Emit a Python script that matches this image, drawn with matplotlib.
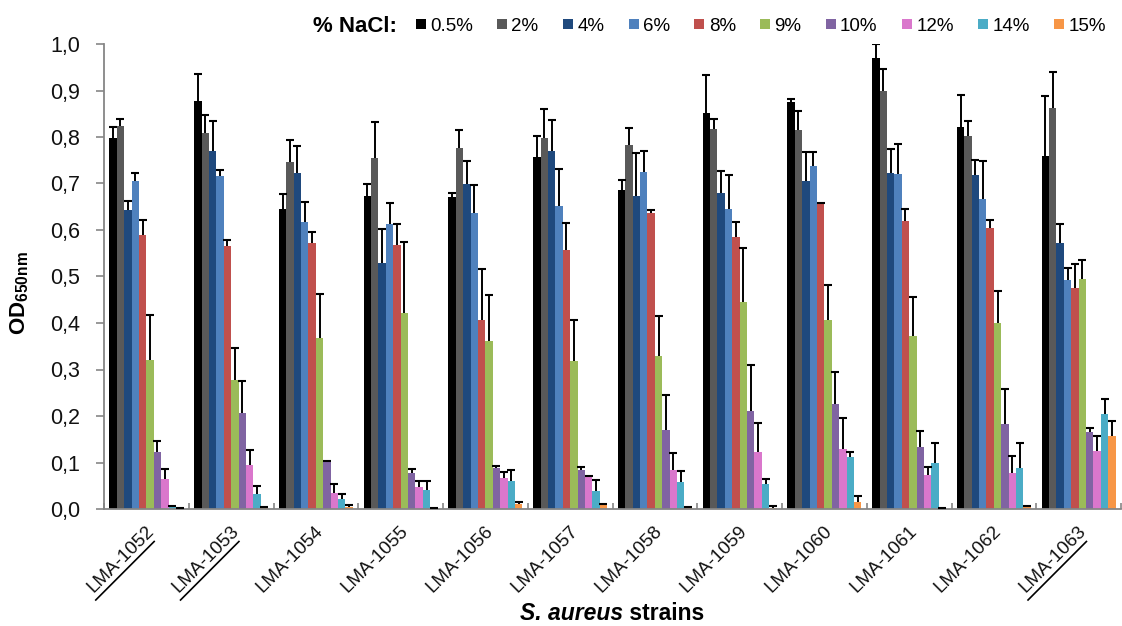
import numpy as np
import matplotlib
matplotlib.use("Agg")
import matplotlib.pyplot as plt
from matplotlib.lines import Line2D
from matplotlib.ticker import FuncFormatter, MultipleLocator, FixedLocator
from matplotlib.transforms import ScaledTranslation

plt.rcParams["font.family"] = ["Liberation Sans", "DejaVu Sans"]
plt.rcParams["mathtext.fontset"] = "custom"
plt.rcParams["mathtext.rm"] = "Liberation Sans"
plt.rcParams["mathtext.bf"] = "Liberation Sans:bold"

strains = ["LMA-1052", "LMA-1053", "LMA-1054", "LMA-1055", "LMA-1056", "LMA-1057",
           "LMA-1058", "LMA-1059", "LMA-1060", "LMA-1061", "LMA-1062", "LMA-1063"]
underlined = ["LMA-1052", "LMA-1053", "LMA-1063"]
nacl_levels = ["0.5%", "2%", "4%", "6%", "8%", "9%", "10%", "12%", "14%", "15%"]
colors = ["#000000", "#595959", "#1F497D", "#4F81BD", "#C0504D",
          "#9BBB59", "#8064A2", "#DA77CC", "#4BACC6", "#F79646"]

# OD650nm mean per strain, one value per NaCl level (0.5% ... 15%)
od_1052 = [0.797, 0.824, 0.644, 0.705, 0.589, 0.320, 0.123, 0.065, 0.004, 0.002]
od_1053 = [0.878, 0.809, 0.770, 0.717, 0.566, 0.277, 0.206, 0.095, 0.032, 0.003]
od_1054 = [0.645, 0.746, 0.723, 0.618, 0.571, 0.367, 0.102, 0.034, 0.022, 0.005]
od_1055 = [0.673, 0.755, 0.528, 0.613, 0.567, 0.422, 0.077, 0.047, 0.040, 0.001]
od_1056 = [0.671, 0.777, 0.700, 0.636, 0.406, 0.361, 0.088, 0.066, 0.060, 0.011]
od_1057 = [0.756, 0.797, 0.770, 0.652, 0.556, 0.318, 0.084, 0.068, 0.039, 0.009]
od_1058 = [0.686, 0.782, 0.673, 0.725, 0.636, 0.330, 0.170, 0.084, 0.057, 0.003]
od_1059 = [0.851, 0.818, 0.679, 0.645, 0.584, 0.445, 0.210, 0.122, 0.054, 0.003]
od_1060 = [0.875, 0.816, 0.705, 0.737, 0.656, 0.406, 0.226, 0.128, 0.112, 0.015]
od_1061 = [0.970, 0.900, 0.722, 0.721, 0.619, 0.373, 0.133, 0.073, 0.100, 0.002]
od_1062 = [0.822, 0.802, 0.718, 0.666, 0.604, 0.400, 0.183, 0.077, 0.089, 0.005]
od_1063 = [0.760, 0.862, 0.571, 0.492, 0.475, 0.495, 0.166, 0.125, 0.204, 0.157]

# standard deviations (upper error bars)
sd_1052 = [0.024, 0.015, 0.019, 0.017, 0.032, 0.097, 0.024, 0.022, 0.002, 0.001]
sd_1053 = [0.058, 0.038, 0.064, 0.011, 0.012, 0.069, 0.069, 0.032, 0.018, 0.002]
sd_1054 = [0.033, 0.048, 0.058, 0.043, 0.024, 0.095, 0.001, 0.020, 0.010, 0.003]
sd_1055 = [0.026, 0.078, 0.075, 0.045, 0.046, 0.152, 0.008, 0.013, 0.020, 0.001]
sd_1056 = [0.008, 0.039, 0.049, 0.061, 0.111, 0.099, 0.005, 0.013, 0.024, 0.005]
sd_1057 = [0.046, 0.063, 0.067, 0.079, 0.059, 0.088, 0.007, 0.003, 0.023, 0.002]
sd_1058 = [0.022, 0.037, 0.093, 0.044, 0.006, 0.086, 0.075, 0.036, 0.025, 0.002]
sd_1059 = [0.082, 0.020, 0.048, 0.073, 0.033, 0.116, 0.100, 0.064, 0.011, 0.003]
sd_1060 = [0.006, 0.040, 0.063, 0.031, 0.003, 0.076, 0.068, 0.068, 0.011, 0.012]
sd_1061 = [0.029, 0.047, 0.052, 0.065, 0.027, 0.082, 0.035, 0.017, 0.043, 0.001]
sd_1062 = [0.068, 0.032, 0.033, 0.083, 0.017, 0.069, 0.074, 0.036, 0.054, 0.001]
sd_1063 = [0.129, 0.077, 0.041, 0.026, 0.051, 0.041, 0.009, 0.032, 0.033, 0.032]

means = np.array([od_1052, od_1053, od_1054, od_1055, od_1056, od_1057,
                  od_1058, od_1059, od_1060, od_1061, od_1062, od_1063])
sds = np.array([sd_1052, sd_1053, sd_1054, sd_1055, sd_1056, sd_1057,
                sd_1058, sd_1059, sd_1060, sd_1061, sd_1062, sd_1063])

fig = plt.figure(figsize=(11.22, 6.26), dpi=100)
ax = fig.add_axes([104 / 1122, 1 - 509 / 626, (1121 - 104) / 1122, (509 - 44) / 626])

n_levels = len(nacl_levels)
group_w = 0.873
bar_w = group_w / n_levels
x = np.arange(len(strains))
axis_grey = "#868686"

for j, (lvl, col) in enumerate(zip(nacl_levels, colors)):
    pos = x - group_w / 2 + (j + 0.5) * bar_w
    top = means[:, j] + sds[:, j]
    ax.bar(pos, means[:, j], width=bar_w, color=col, linewidth=0, zorder=2)
    # upper-only error bars: stem plus a cap at the top
    ax.vlines(pos, means[:, j], top, color="black", lw=1.4, zorder=3)
    ax.plot(pos, top, linestyle="", marker="_", markersize=6.4,
            markeredgewidth=1.5, color="black", zorder=3)

ax.set_xlim(-0.5, len(strains) - 0.5)
ax.set_ylim(0, 1.0)
ax.yaxis.set_major_locator(MultipleLocator(0.1))
ax.yaxis.set_major_formatter(FuncFormatter(lambda v, p: f"{v:.1f}".replace(".", ",")))

for s in ("top", "right"):
    ax.spines[s].set_visible(False)
for s in ("left", "bottom"):
    ax.spines[s].set_color(axis_grey)
    ax.spines[s].set_linewidth(1.3)

ax.tick_params(axis="y", direction="out", length=6, width=1.2, color=axis_grey,
               labelsize=15.5, pad=11, labelcolor="#111111")
ax.set_xticks(x)
ax.set_xticklabels(strains, rotation=45, ha="right", rotation_mode="anchor",
                   fontsize=13.5, color="#111111")
ax.tick_params(axis="x", which="major", length=0, pad=10)
ax.xaxis.set_minor_locator(FixedLocator(np.arange(-0.5, len(strains), 1.0)))
ax.tick_params(axis="x", which="minor", direction="in", length=4, width=1.2,
               color=axis_grey)

shift = ScaledTranslation(-1 / 100, 0, fig.dpi_scale_trans)
for lab in ax.get_xticklabels():
    lab.set_transform(lab.get_transform() + shift)

# underline selected strain names
to_fig = fig.transFigure.inverted()
for name in underlined:
    i = strains.index(name)
    px, py = ax.transData.transform((i, 0))
    p0 = to_fig.transform((px - 50.6, py - 91))
    p1 = to_fig.transform((px + 7.8, py - 32.5))
    fig.add_artist(Line2D([p0[0], p1[0]], [p0[1], p1[1]], color="black", lw=1.2,
                          transform=fig.transFigure))

# y label
fig.text(20 / 1122, 1 - 293 / 626, r"$\mathbf{OD}_{\mathbf{650nm}}$", rotation=90,
         ha="center", va="center", fontsize=16)

# x label: italic species name followed by plain bold word
t1 = fig.text(0, 1 / 626, "S. aureus", fontsize=16.5, fontweight="bold",
              style="italic", ha="left", va="bottom")
t2 = ax.annotate(" strains", xy=(1, 0), xycoords=t1, fontsize=16.5,
                 fontweight="bold", ha="left", va="bottom",
                 annotation_clip=False)
fig.canvas.draw()
r = fig.canvas.get_renderer()
w_total = t1.get_window_extent(r).width + t2.get_window_extent(r).width
ax_box = ax.get_window_extent(r)
center = (ax_box.x0 + ax_box.x1) / 2
t1.set_x((center - w_total / 2) / fig.bbox.width)

# legend
fig.text(313 / 1122, 1 - 26 / 626, "% NaCl:", fontsize=16, fontweight="bold",
         ha="left", va="center")
handles = [Line2D([], [], marker="s", linestyle="", markersize=7, color=c,
                  markeredgewidth=0) for c in colors]
fig.legend(handles, nacl_levels, ncol=n_levels, loc="center left",
           bbox_to_anchor=(415 / 1122, 1 - 26 / 626), bbox_transform=fig.transFigure,
           frameon=False, fontsize=13.5, handlelength=0.6, handletextpad=0.2,
           columnspacing=1.26, borderpad=0, borderaxespad=0)

fig.savefig("out.png", dpi=100)
